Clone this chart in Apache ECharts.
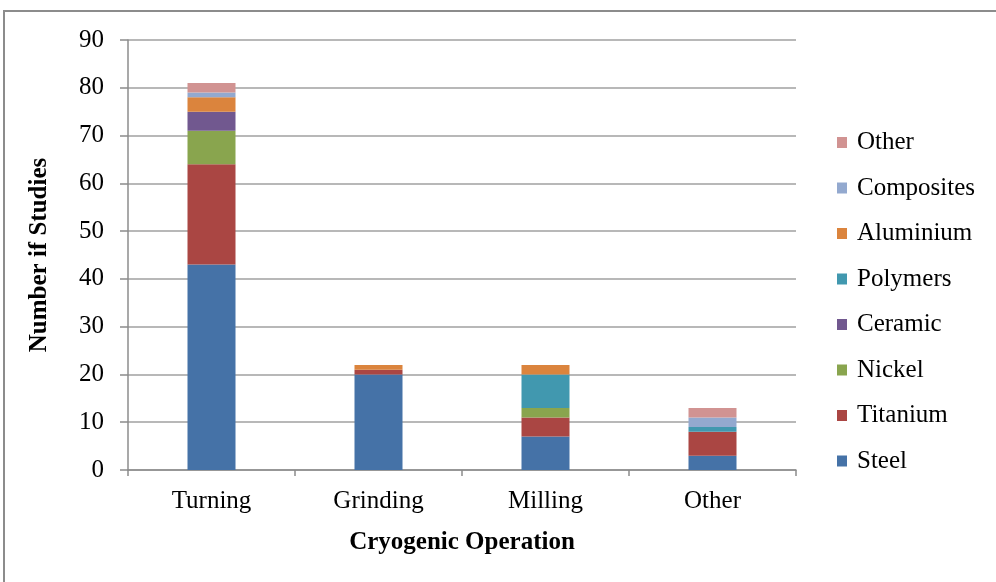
<!DOCTYPE html>
<html>
<head>
<meta charset="utf-8">
<script src="https://cdn.jsdelivr.net/npm/echarts@6/dist/echarts.min.js"></script>
<style>
html,body{margin:0;padding:0;background:#fff;}
#chart{width:996px;height:582px;}
</style>
</head>
<body>
<div id="chart"></div>
<script>
const categories = ['Turning', 'Grinding', 'Milling', 'Other'];
const seriesNames = ['Steel', 'Titanium', 'Nickel', 'Ceramic', 'Polymers', 'Aluminium', 'Composites', 'Other'];
const steel      = [43, 20, 7, 3];
const titanium   = [21, 1, 4, 5];
const nickel     = [7, 0, 2, 0];
const ceramic    = [4, 0, 0, 0];
const polymers   = [0, 0, 7, 1];
const aluminium  = [3, 1, 2, 0];
const composites = [1, 0, 0, 2];
const other      = [2, 0, 0, 2];
const colors = ['#4572A7', '#AA4643', '#89A54E', '#71588F', '#4198AF', '#DB843D', '#93A9CF', '#D19392'];
const seriesData = [steel, titanium, nickel, ceramic, polymers, aluminium, composites, other];

const font = 'Liberation Serif, Times New Roman, serif';
const chart = echarts.init(document.getElementById('chart'), null, {renderer: 'canvas'});
chart.setOption({
  backgroundColor: '#fff',
  animation: false,
  graphic: [{
    type: 'rect', shape: {x: 4, y: 11, width: 1100, height: 700},
    style: {fill: 'none', stroke: '#8c8c8c', lineWidth: 2}, silent: true, z: -1
  }],
  grid: {left: 128, top: 40, width: 668, height: 430, containLabel: false},
  legend: {
    orient: 'vertical', left: 837, top: 130, padding: 0,
    itemWidth: 10, itemHeight: 11, itemGap: 20.5,
    icon: 'rect',
    data: seriesNames.slice().reverse(),
    textStyle: {fontFamily: font, fontSize: 25, color: '#000', lineHeight: 23, padding: [0, 0, 0, 5]}
  },
  xAxis: {
    type: 'category', data: categories,
    name: 'Cryogenic Operation', nameLocation: 'middle', nameGap: 60,
    nameTextStyle: {fontFamily: font, fontSize: 25, fontWeight: 'bold', color: '#000'},
    axisLine: {lineStyle: {color: '#8c8c8c', width: 1.5}},
    axisTick: {show: true, length: 6, lineStyle: {color: '#8c8c8c', width: 1.5}},
    axisLabel: {fontFamily: font, fontSize: 25, color: '#000', margin: 19}
  },
  yAxis: {
    type: 'value', min: 0, max: 90, interval: 10,
    name: 'Number if Studies', nameLocation: 'middle', nameGap: 76, nameRotate: 90,
    nameTextStyle: {fontFamily: font, fontSize: 25, fontWeight: 'bold', color: '#000'},
    axisLine: {show: true, lineStyle: {color: '#8c8c8c', width: 1.5}},
    axisTick: {show: true, length: 8, lineStyle: {color: '#8c8c8c', width: 1.5}},
    axisLabel: {fontFamily: font, fontSize: 25, color: '#000', margin: 24},
    splitLine: {show: true, lineStyle: {color: '#a0a0a0', width: 1.5}}
  },
  series: seriesNames.map((n, i) => ({
    name: n, type: 'bar', stack: 'total', barWidth: 48,
    data: seriesData[i],
    itemStyle: {color: colors[i]}
  }))
});
</script>
</body>
</html>
